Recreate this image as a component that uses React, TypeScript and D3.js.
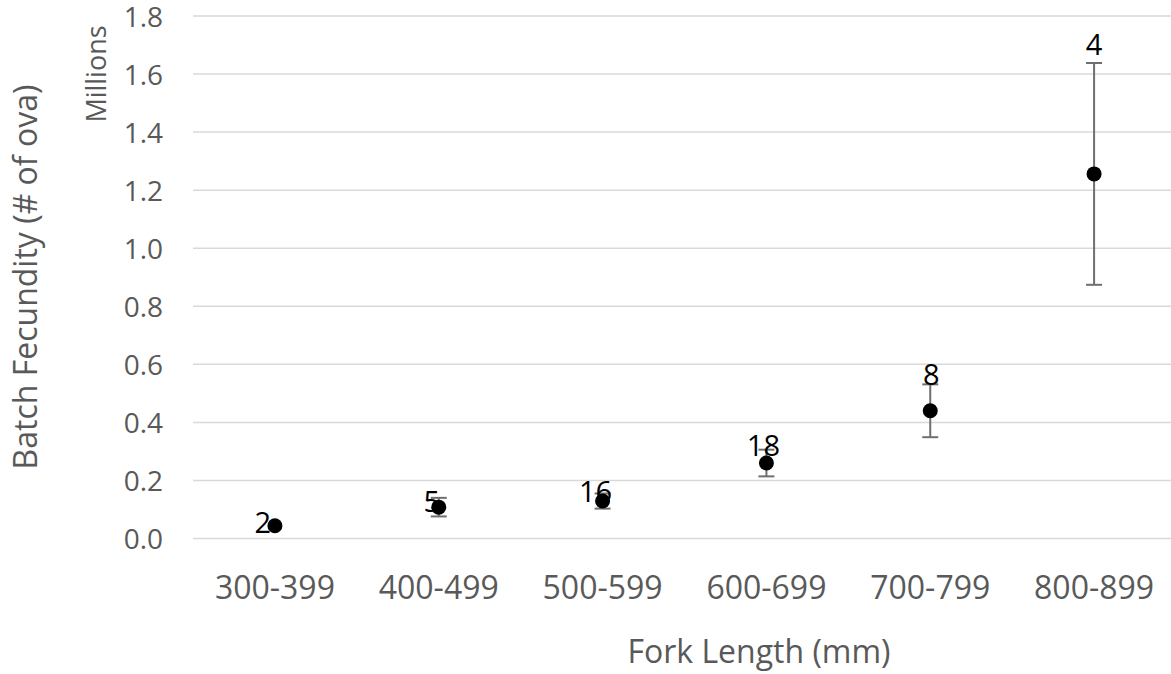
import React from "react";
import * as d3 from "d3";

const categories = ["300-399", "400-499", "500-599", "600-699", "700-799", "800-899"];
const means = [0.044, 0.108, 0.129, 0.26, 0.44, 1.256];
const errors = [0, 0.032, 0.026, 0.046, 0.091, 0.382];
const counts = ["2", "5", "16", "18", "8", "4"];
const labelValues = [0.019, 0.091, 0.126, 0.284, 0.529, 1.666];
const labelNudge = [-12, -7, -7, -3, 1, 0];
const yTicks = [0, 0.2, 0.4, 0.6, 0.8, 1.0, 1.2, 1.4, 1.6, 1.8];

const W = 1171;
const H = 674;
const FONT = "'Open Sans', 'Noto Sans', sans-serif";
const GRAY = "#595959";

export default function App() {
  const x = d3.scaleBand<string>().domain(categories).range([193, 1176]).padding(0);
  const y = d3.scaleLinear().domain([0, 1.8]).range([538.5, 16]);
  const cx = (c: string) => (x(c) as number) + x.bandwidth() / 2;
  const capHalf = 8;

  return (
    <svg
      width={W}
      height={H}
      style={{ position: "absolute", left: 0, top: 0, background: "#fff" }}
      fontFamily={FONT}
    >
      <rect x={0} y={0} width={W} height={H} fill="#fff" />
      {yTicks.map((t) => (
        <g key={t}>
          <line x1={193} x2={1176} y1={y(t)} y2={y(t)} stroke="#d9d9d9" strokeWidth={1.5} />
          <text
            x={163}
            y={y(t)}
            dy="0.38em"
            textAnchor="end"
            fontSize={28}
            fill={GRAY}
          >
            {d3.format(".1f")(t)}
          </text>
        </g>
      ))}
      {categories.map((c) => (
        <text key={c} x={cx(c)} y={599} textAnchor="middle" fontSize={32} fill={GRAY}>
          {c}
        </text>
      ))}
      {categories.map((c, i) => {
        const e = errors[i];
        if (!e) return null;
        const xc = cx(c);
        const yt = y(means[i] + e);
        const yb = y(means[i] - e);
        return (
          <g key={"e" + c} stroke="#6f6f6f" strokeWidth={2}>
            <line x1={xc} x2={xc} y1={yt} y2={yb} />
            <line x1={xc - capHalf} x2={xc + capHalf} y1={yt} y2={yt} />
            <line x1={xc - capHalf} x2={xc + capHalf} y1={yb} y2={yb} />
          </g>
        );
      })}
      {categories.map((c, i) => (
        <circle key={"p" + c} cx={cx(c)} cy={y(means[i])} r={7.5} fill="#000" />
      ))}
      {categories.map((c, i) => (
        <text
          key={"l" + c}
          x={cx(c) + labelNudge[i]}
          y={y(labelValues[i])}
          textAnchor="middle"
          fontSize={29}
          fill="#000"
        >
          {counts[i]}
        </text>
      ))}
      <text x={759} y={663} textAnchor="middle" fontSize={32} fill={GRAY}>
        Fork Length (mm)
      </text>
      <text
        transform={`translate(37,277) rotate(-90)`}
        textAnchor="middle"
        fontSize={32}
        fill={GRAY}
      >
        Batch Fecundity (# of ova)
      </text>
      <text
        transform={`translate(106,74) rotate(-90)`}
        textAnchor="middle"
        fontSize={27}
        fill={GRAY}
      >
        Millions
      </text>
    </svg>
  );
}
